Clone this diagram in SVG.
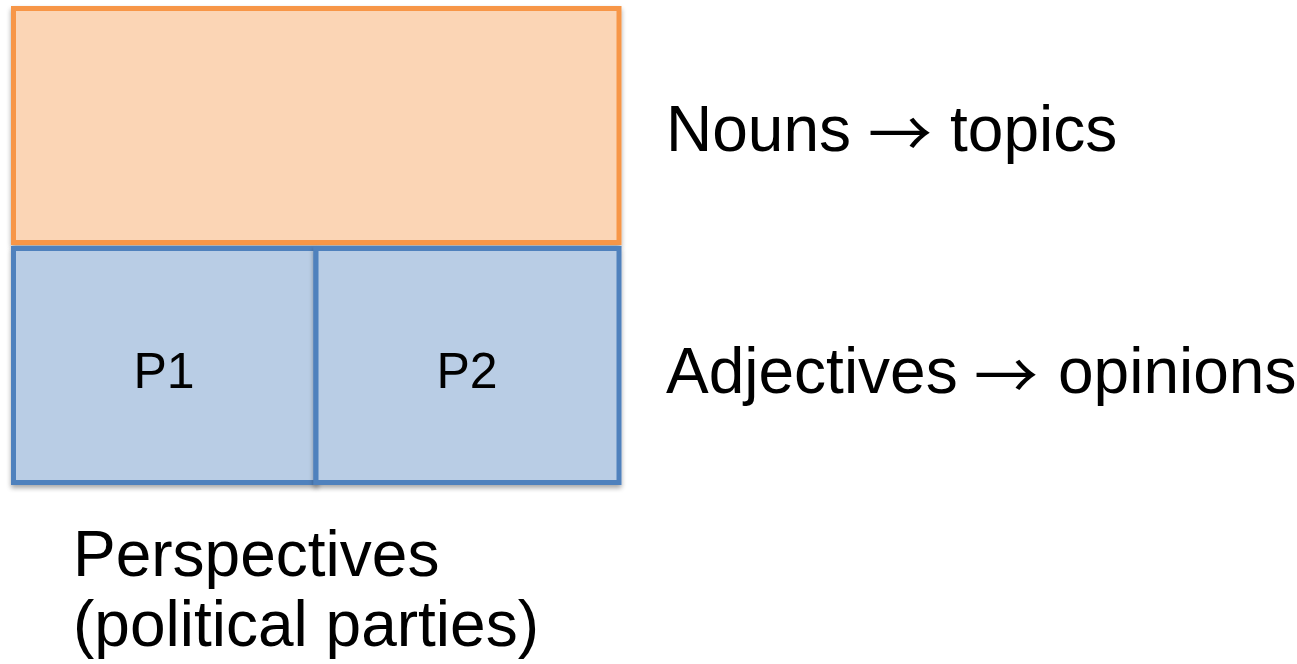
<svg xmlns="http://www.w3.org/2000/svg" width="1297" height="664" viewBox="0 0 1297 664">
<defs>
<filter id="sh" x="-5%" y="-5%" width="110%" height="115%">
<feGaussianBlur in="SourceAlpha" stdDeviation="2.5"/>
<feOffset dx="0" dy="3" result="b"/>
<feComponentTransfer><feFuncA type="linear" slope="0.35"/></feComponentTransfer>
<feMerge><feMergeNode/><feMergeNode in="SourceGraphic"/></feMerge>
</filter>
</defs>
<style>
.t{font-family:"Liberation Sans",Arial,sans-serif;fill:#000}
.big{font-size:64px}
.p{font-size:50px;text-anchor:middle}
.ar{font-family:"Noto Sans CJK JP",sans-serif;font-weight:normal}
.or{fill:#fbd5b5;stroke:#f79646;stroke-width:5}
.bl{fill:#b9cde5;stroke:#4f81bd;stroke-width:5}
</style>
<g id="topics" filter="url(#sh)">
<rect class="or" x="13.5" y="8.5" width="605.5" height="234"/>
</g>
<g id="p1" filter="url(#sh)">
<rect class="bl" x="13.5" y="248.5" width="302.5" height="234"/>
<text class="t p" x="164" y="388">P1</text>
</g>
<g id="p2" filter="url(#sh)">
<rect class="bl" x="316" y="248.5" width="303" height="234"/>
<text class="t p" x="467" y="388">P2</text>
</g>
<g id="labels">
<text class="t big" x="666" y="151">Nouns <tspan class="ar" x="868" dy="6">→</tspan> <tspan x="950" y="151">topics</tspan></text>
<text class="t big" x="666" y="393">Adjectives <tspan class="ar" x="974" dy="6">→</tspan> <tspan x="1058" y="393">opinions</tspan></text>
<text class="t big" x="73" y="576">Perspectives</text>
<text class="t big" x="73" y="646">(political parties)</text>
</g>
<g id="connectors"/>
</svg>
